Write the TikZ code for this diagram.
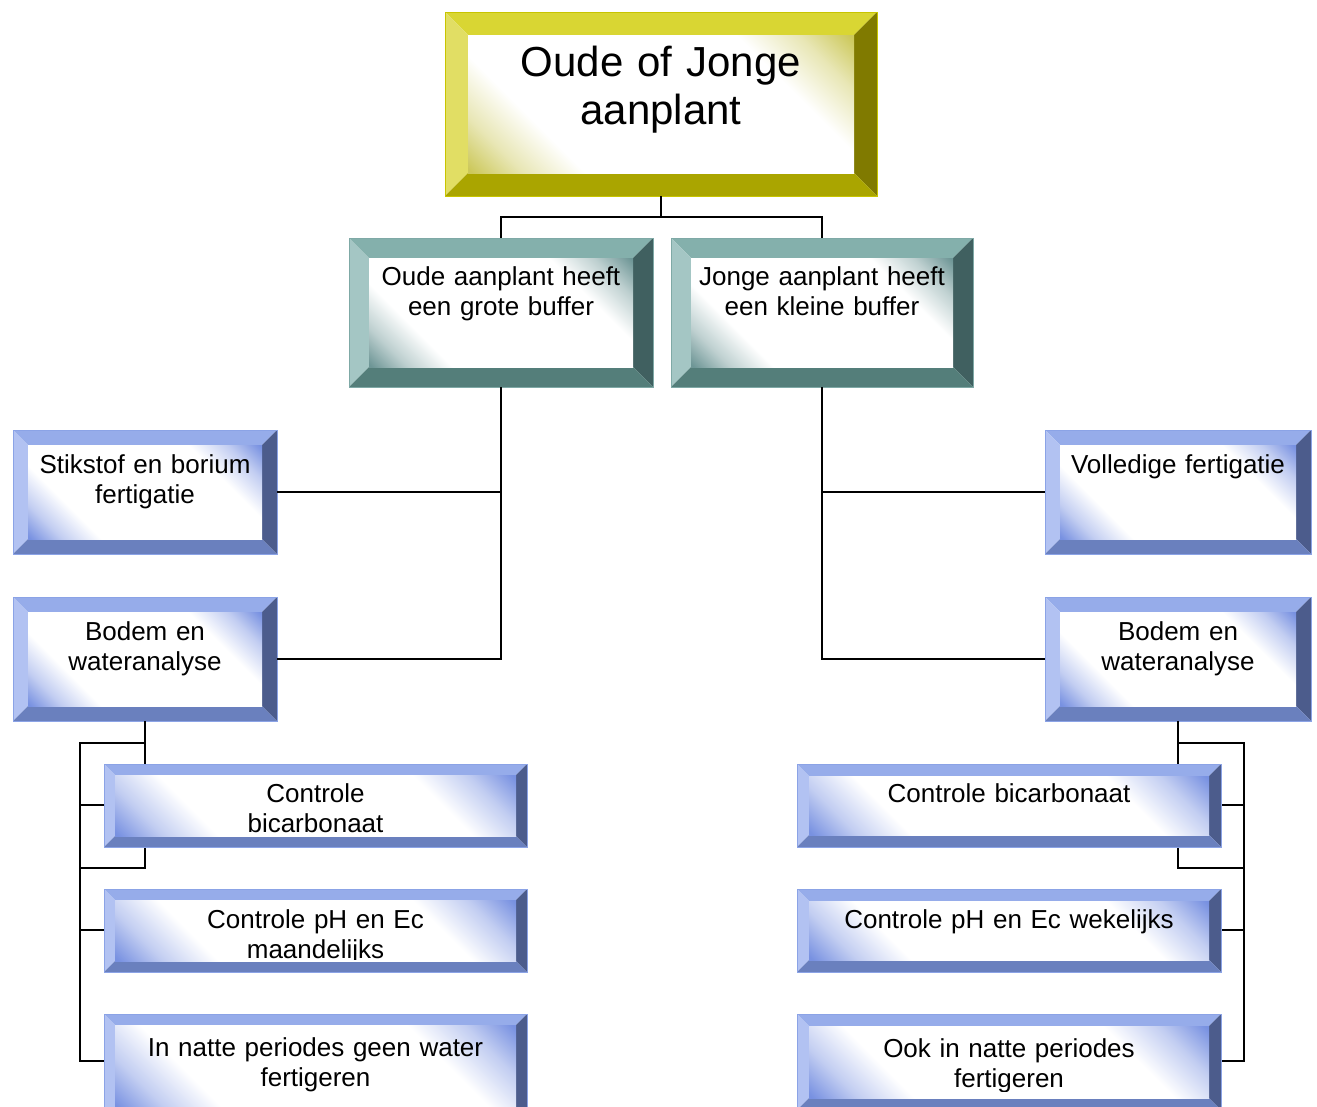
\documentclass[tikz,border=0pt]{standalone}
\usepackage{fontspec}
\setmainfont{Liberation Sans}
\usetikzlibrary{fit}
% yellow scheme
\definecolor{Ytop}{HTML}{D9D633}\definecolor{Ylft}{HTML}{E1DE64}
\definecolor{Yrgt}{HTML}{807A00}\definecolor{Ybot}{HTML}{AAA500}
\definecolor{Ytint}{HTML}{CCC85A}\definecolor{Yout}{HTML}{C8C400}
% teal scheme
\definecolor{Ttop}{HTML}{84B0AC}\definecolor{Tlft}{HTML}{A4C6C4}
\definecolor{Trgt}{HTML}{406060}\definecolor{Tbot}{HTML}{547E7A}
\definecolor{Ttint}{HTML}{6E9696}\definecolor{Tout}{HTML}{7FA9A6}
% blue scheme
\definecolor{Btop}{HTML}{96ACEA}\definecolor{Blft}{HTML}{B2C2F2}
\definecolor{Brgt}{HTML}{4C5C8C}\definecolor{Bbot}{HTML}{6A80BE}
\definecolor{Btint}{HTML}{7891E1}\definecolor{Bout}{HTML}{8BA3E6}
\colorlet{Ymid}{Ytint!45!white}\colorlet{Tmid}{Ttint!45!white}\colorlet{Bmid}{Btint!45!white}
\pgfdeclareverticalshading{shY}{100bp}{color(0bp)=(Ytint); color(37.5bp)=(Ytint); color(40bp)=(Ymid); color(43bp)=(white); color(57bp)=(white); color(60bp)=(Ymid); color(62.5bp)=(Ytint); color(100bp)=(Ytint)}
\pgfdeclareverticalshading{shT}{100bp}{color(0bp)=(Ttint); color(37.5bp)=(Ttint); color(40bp)=(Tmid); color(43bp)=(white); color(57bp)=(white); color(60bp)=(Tmid); color(62.5bp)=(Ttint); color(100bp)=(Ttint)}
\pgfdeclareverticalshading{shB}{100bp}{color(0bp)=(Btint); color(37.5bp)=(Btint); color(40bp)=(Bmid); color(43bp)=(white); color(57bp)=(white); color(60bp)=(Bmid); color(62.5bp)=(Btint); color(100bp)=(Btint)}
% #1 name, #2 x1, #3 y1, #4 x2, #5 y2, #6 bevel, #7 scheme
\newcommand{\bevbox}[7]{%
  \fill[#7top] (#2,#3) -- (#4,#3) -- ({#4-#6},{#3+#6}) -- ({#2+#6},{#3+#6}) -- cycle;
  \fill[#7lft] (#2,#3) -- ({#2+#6},{#3+#6}) -- ({#2+#6},{#5-#6}) -- (#2,#5) -- cycle;
  \fill[#7rgt] (#4,#3) -- (#4,#5) -- ({#4-#6},{#5-#6}) -- ({#4-#6},{#3+#6}) -- cycle;
  \fill[#7bot] (#2,#5) -- (#4,#5) -- ({#4-#6},{#5-#6}) -- ({#2+#6},{#5-#6}) -- cycle;
  \pgfmathsetmacro\bbL{1.4*((#4-#2-2*#6)+(#5-#3-2*#6))}%
  \pgfmathsetmacro\bbcx{(#2+#4)/2}%
  \pgfmathsetmacro\bbcy{(#3+#5)/2}%
  \begin{scope}
    \clip ({#2+#6},{#3+#6}) rectangle ({#4-#6},{#5-#6});
    \shade[shading=sh#7, shading angle=-45] ({\bbcx-\bbL/2},{\bbcy-\bbL/2}) rectangle ({\bbcx+\bbL/2},{\bbcy+\bbL/2});
  \end{scope}
  \draw[#7out, line width=0.8pt] (#2,#3) rectangle (#4,#5);
  \node[fit={(#2,#3) (#4,#5)}, inner sep=0pt] (#1) {};
}
% #1 name, #2 x, #3 baseline y, #4 width, #5 clip x1, #6 clip y1, #7 clip x2, #8 clip y2, #9 text
\newcommand{\boxtext}[9]{%
  \begin{scope}
    \clip (#5,#6) rectangle (#7,#8);
    \node[lbl, text width=#4pt, anchor=base] (#1) at (#2,#3) {#9};
  \end{scope}
}
\tikzset{
  conn/.style={draw=black, line width=2.2pt},
  lbl/.style={inner sep=0pt, align=center, text=black, font=\fontsize{26}{30}\selectfont},
}
\begin{document}
\begin{tikzpicture}[x=1pt, y=-1pt]
\useasboundingbox (0,0) rectangle (1317,1106);
\clip (0,0) rectangle (1317,1106);
\fill[white] (0,0) rectangle (1317,1106);

% junction coordinates
\coordinate (j0) at (661,217);
\coordinate (jl) at (80,743);
\coordinate (jl2) at (80,868);
\coordinate (jr) at (1244,743);
\coordinate (jr2) at (1244,868);
\coordinate (l3in) at (104,1061);
\coordinate (r3in) at (1221,1061);

% boxes
\bevbox{top}{445}{12}{877}{196}{23}{Y}
\bevbox{tealL}{349}{238}{653}{387}{20}{T}
\bevbox{tealR}{671}{238}{973}{387}{20}{T}
\bevbox{stik}{13}{430}{277}{554}{15}{B}
\bevbox{bodL}{13}{597}{277}{721}{15}{B}
\bevbox{voll}{1045}{430}{1311}{554}{15}{B}
\bevbox{bodR}{1045}{597}{1311}{721}{15}{B}

% connectors (drawn under the level-3 boxes)
\draw[conn] (top.south) -- (top.south |- j0);
\draw[conn] (tealL.north) -- (tealL.north |- j0) -- (tealR.north |- j0) -- (tealR.north);
\draw[conn] (tealL.south) |- (stik.east);
\draw[conn] (tealL.south) |- (bodL.east);
\draw[conn] (tealR.south) |- (voll.west);
\draw[conn] (tealR.south) |- (bodR.west);
\draw[conn] (bodL.south) -- (bodL.south |- jl) -- (jl) -- (jl |- l3in) -- (l3in);
\draw[conn] (bodL.south) -- (bodL.south |- jl2) -- (jl2);
\draw[conn] (jl |- 0,805) -- (104,805);
\draw[conn] (jl |- 0,930) -- (104,930);
\draw[conn] (bodR.south) -- (bodR.south |- jr) -- (jr) -- (jr |- r3in) -- (r3in);
\draw[conn] (bodR.south) -- (bodR.south |- jr2) -- (jr2);
\draw[conn] (jr |- 0,805) -- (1221,805);
\draw[conn] (jr |- 0,930) -- (1221,930);

\bevbox{l1}{104}{764}{527}{847}{11}{B}
\bevbox{l2}{104}{889}{527}{972}{11}{B}
\bevbox{l3}{104}{1014}{527}{1120}{11}{B}
\bevbox{r1}{797}{764}{1221}{847}{12}{B}
\bevbox{r2}{797}{889}{1221}{972}{12}{B}
\bevbox{r3}{797}{1014}{1221}{1110}{12}{B}

% texts
\node[lbl, text width=380pt, anchor=base, font=\fontsize{42}{48}\selectfont] (topt) at (661,76) {Oude of Jonge\\aanplant};
\boxtext{tealLt}{501}{285}{262}{369}{258}{634}{368}{Oude aanplant heeft\\een grote buffer}
\boxtext{tealRt}{822}{285}{262}{691}{258}{953}{368}{Jonge aanplant heeft\\een kleine buffer}
\boxtext{stikt}{145}{473}{236}{28}{445}{263}{540}{Stikstof en borium\\fertigatie}
\boxtext{bodLt}{145}{640}{236}{28}{612}{263}{707}{Bodem en\\wateranalyse}
\boxtext{vollt}{1178}{473}{238}{1060}{445}{1297}{540}{Volledige fertigatie}
\boxtext{bodRt}{1178}{640}{238}{1060}{612}{1297}{707}{Bodem en\\wateranalyse}
\boxtext{l1t}{315.5}{802}{400}{115}{775}{516}{837}{Controle\\bicarbonaat}
\boxtext{l2t}{315.5}{928}{400}{115}{900}{516}{959}{Controle pH en Ec\\maandelijks}
\boxtext{l3t}{315.5}{1056}{400}{115}{1025}{516}{1091}{In natte periodes geen water\\fertigeren}
\boxtext{r1t}{1009}{802}{400}{809}{775}{1209}{836}{Controle bicarbonaat}
\boxtext{r2t}{1009}{928}{400}{809}{900}{1209}{961}{Controle pH en Ec wekelijks}
\boxtext{r3t}{1009}{1057}{400}{809}{1026}{1209}{1091}{Ook in natte periodes\\fertigeren}
\end{tikzpicture}
\end{document}
